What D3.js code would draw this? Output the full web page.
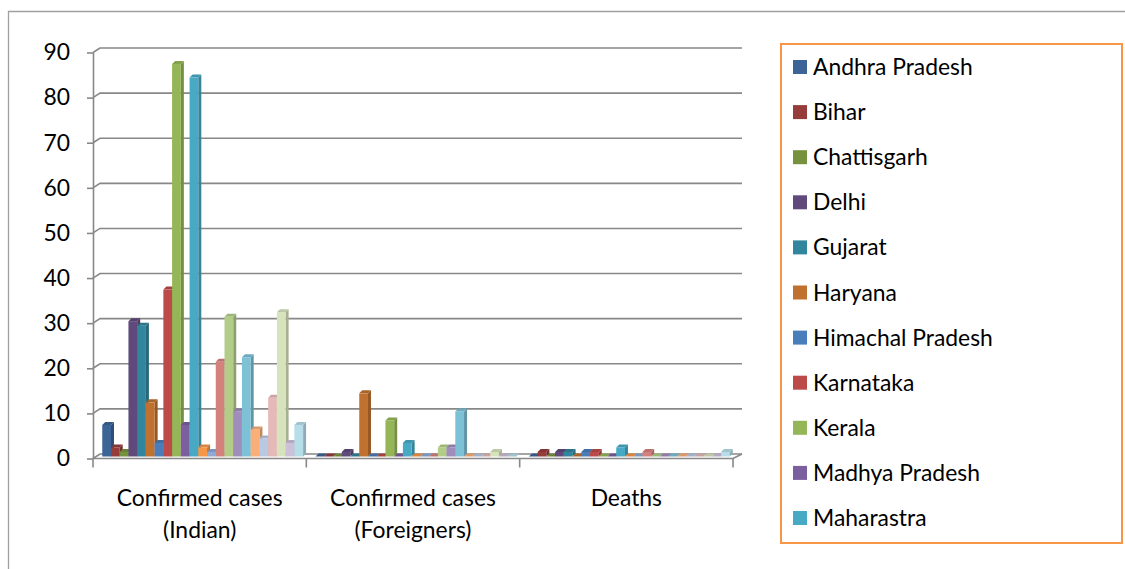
<!DOCTYPE html>
<html><head><meta charset="utf-8">
<script src="https://cdn.jsdelivr.net/npm/d3@7"></script>
<style>html,body{margin:0;padding:0;background:#fff;}svg{display:block;}</style>
</head><body>
<script>
// ---- data ----
const categories = ["Confirmed cases\n(Indian)", "Confirmed cases\n(Foreigners)", "Deaths"];
const seriesNames = ["Andhra Pradesh","Bihar","Chattisgarh","Delhi","Gujarat","Haryana","Himachal Pradesh","Karnataka","Kerala","Madhya Pradesh","Maharastra","Odisha","Puducherry","Punjab","Rajasthan","Tamil Nadu","Telangana","Chandigarh","Jammu and Kashmir","Ladakh","Uttar Pradesh","Uttarakhand","West Bengal"];
const indianCases  = [7,2,1,30,29,12,3,37,87,7,84,2,1,21,31,10,22,6,4,13,32,3,7];
const foreignCases = [0,0,0,1,0,14,0,0,8,0,3,0,0,0,2,2,10,0,0,0,1,0,0];
const deaths       = [0,1,0,1,1,0,1,1,0,0,2,0,0,1,0,0,0,0,0,0,0,0,1];
const seriesColors = ["#3C6496","#963C3A","#77923F","#604A7B","#31859C","#C0712F","#4A7EBB","#BC4A48","#95B656","#7C5F9F","#47A9C4","#F79646","#8EAAD6","#D4817E","#B3CD88","#A18DBC","#7DC1D6","#F9AF77","#B9C9E3","#E4B9B8","#D6E3BC","#CCC0DA","#B6DDE8"];
const yTicks = [0,10,20,30,40,50,60,70,80,90];
const legendCount = 11;

const W = 1125, H = 569;
const svg = d3.select("body").append("svg").attr("width", W).attr("height", H)
  .style("font-family", "Lato, 'Open Sans', sans-serif");
svg.append("rect").attr("width", W).attr("height", H).attr("fill", "#fff");

// fit font size to reference text width
const tmp = svg.append("text").attr("font-size", 100).text("Himachal Pradesh");
const fs = 100 * 180 / tmp.node().getComputedTextLength();
tmp.remove();

// outer border
svg.append("path").attr("d", "M8.5,569 L8.5,11.5 L1125,11.5")
  .attr("fill", "none").attr("stroke", "#a0a0a0").attr("stroke-width", 1.3);

const values = [indianCases, foreignCases, deaths];
const wallDx = 7, wallDy = -4.5;
const yFront = d3.scaleLinear().domain([0, 90]).range([458.5, 52.5]);
const yBack = v => yFront(v) + wallDy;
const x0 = d3.scaleBand().domain(categories).range([93, 733]).paddingInner(0.0586).paddingOuter(0.0293);
const x1 = d3.scaleBand().domain(seriesNames).range([0, x0.bandwidth()]);
const gridColor = "#888888";

// gridlines on wall
const grid = svg.append("g").attr("fill", "none").attr("stroke", gridColor).attr("stroke-width", 1.6);
yTicks.forEach(v => {
  grid.append("path").attr("d", `M93,${yFront(v)} L${93 + wallDx},${yBack(v)} L742,${yBack(v)}`);
});
// floor front edge
grid.append("path").attr("d", `M93,${yFront(0)} L733,${yFront(0)} L742,${yBack(0)}`);
// category ticks
const step = x0.step();
d3.range(categories.length + 1).forEach(k => {
  const x = 93 + k * step;
  grid.append("line").attr("x1", x).attr("x2", x).attr("y1", yFront(0)).attr("y2", yFront(0) + 9);
});

// y axis
const yAxis = svg.append("g").attr("transform", "translate(93,0)")
  .call(d3.axisLeft(yFront).tickValues(yTicks).tickSize(6).tickSizeOuter(0).tickPadding(17));
yAxis.selectAll(".domain, .tick line").attr("stroke", gridColor).attr("stroke-width", 1.6);
yAxis.selectAll("text").attr("font-size", fs).attr("font-family", "Lato, sans-serif").attr("fill", "#000");

// bars (3D)
const depth = 3;
const bars = svg.append("g");
categories.forEach((c, ci) => {
  seriesNames.forEach((s, si) => {
    const v = values[ci][si];
    const x = x0(c) + x1(s) + 3;
    const w = x1.bandwidth();
    const yb = yFront(0) - 2;
    const yt = yFront(v) - 2;
    const col = d3.color(seriesColors[si]);
    // side face
    bars.append("path")
      .attr("d", `M${x + w},${yb} L${x + w + depth},${yb - depth} L${x + w + depth},${yt - depth} L${x + w},${yt} Z`)
      .attr("fill", col.darker(0.7));
    // top face
    bars.append("path")
      .attr("d", `M${x},${yt} L${x + depth},${yt - depth} L${x + w + depth},${yt - depth} L${x + w},${yt} Z`)
      .attr("fill", col.darker(0.35));
    // front face
    bars.append("rect").attr("x", x).attr("y", yt).attr("width", w).attr("height", Math.max(0, yb - yt))
      .attr("fill", col);
  });
});

// category labels
const cl = svg.append("g").attr("font-size", fs).attr("fill", "#000").attr("text-anchor", "middle");
categories.forEach(c => {
  const t = cl.append("text").attr("x", x0(c) + x0.bandwidth() / 2).attr("y", 506);
  c.split("\n").forEach((line, i) => {
    t.append("tspan").attr("x", x0(c) + x0.bandwidth() / 2).attr("y", 506 + i * 32).text(line);
  });
});

// legend
const lg = svg.append("g");
lg.append("rect").attr("x", 781).attr("y", 44).attr("width", 341).attr("height", 499)
  .attr("fill", "#fff").attr("stroke", "#F79646").attr("stroke-width", 2);
seriesNames.slice(0, legendCount).forEach((s, i) => {
  const cy = 67 + i * 45.1;
  lg.append("rect").attr("x", 793).attr("y", cy - 7).attr("width", 14).attr("height", 14).attr("fill", seriesColors[i]);
  lg.append("text").attr("x", 813).attr("y", cy + 8).attr("font-size", fs).attr("fill", "#000").text(s);
});
</script>
</body></html>
